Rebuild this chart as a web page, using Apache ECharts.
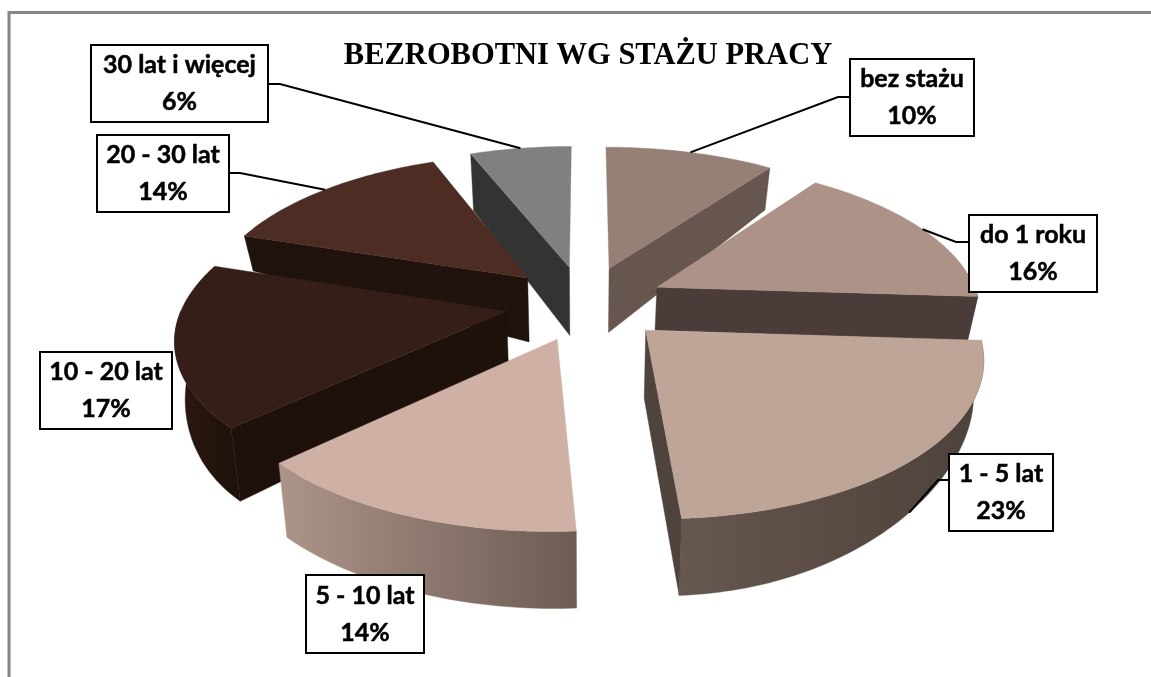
<!DOCTYPE html>
<html><head><meta charset="utf-8">
<style>html,body{margin:0;padding:0;background:#fff}#c{width:1151px;height:677px}</style>
<script src="https://cdn.jsdelivr.net/npm/echarts@6/dist/echarts.min.js"></script>
</head><body><div id="c"></div>
<script>
const categories = ['bez stażu','do 1 roku','1 - 5 lat','5 - 10 lat','10 - 20 lat','20 - 30 lat','30 lat i więcej'];
const shares = [10,16,23,14,17,14,6];
const chartTitle = 'BEZROBOTNI WG STAŻU PRACY';

// styling per slice
const topColors  = ['#967F75','#AD9287','#BFA498','#CFB0A5','#341E17','#4C2C23','#808080'];
const faceColors = ['#66564F','#4A3C38','#4F433D','#5A4B44','#1E110C','#20120D','#333333'];
const wallFrom   = ['#66564F','#4A3C38','#66574F','#AD9488','#2B1811','#20120D','#333333'];
const wallTo     = ['#66564F','#4A3C38','#4D413B','#6C5C54','#1F110C','#20120D','#333333'];
// wall heights: [apex, rim at start angle, rim at end angle]
const wallH = [[64,42,42],[43,44,44],[68,35,77],[60,77,74],[60,73,45],[64,35,35],[68,57,57]];
// small horizontal layout nudge per slice
const nudgeX = [0,0,2,3,1,0,-1];
// label layout: box [x0,y0,x1,y1], elbow [x,y] (null = no leader)
const boxes = [[850,59,974,136],[969,215,1097,292],[949,454,1053,531],[306,575,424,653],[40,352,172,429],[97,135,229,212],[91,45,268,122]];
const elbows = [[[850,97],[838,97]],[[969,242],[956,242]],[[949,480],[938,480]],null,null,[[229,173],[240,173]],[[268,84],[280,84]]];

const CX=585, CY=303, R0=323, A=150, P=0.155, EXPL=0.25, SHRINK=0.026;
const total = shares.reduce((a,b)=>a+b,0);
let acc=0;
const slices = shares.map((v,i)=>{const t0=acc/total*2*Math.PI; acc+=v; const t1=acc/total*2*Math.PI; return {i,t0,t1,m:(t0+t1)/2};});

function proj(X,Y,h,dx){
  const w=1-P*Y, px=R0*X/w, py=A*Y/w;
  const k=h?1-SHRINK:1;
  return [CX+dx+px*k, CY+py+(h||0)];
}
function pt(s,r,t,h){
  const X=EXPL*Math.sin(s.m)+r*Math.sin(t), Y=-EXPL*Math.cos(s.m)-r*Math.cos(t);
  return proj(X,Y,h,nudgeX[s.i]);
}
function rimH(s,t){
  const H=wallH[s.i], u=(t-s.t0)/(s.t1-s.t0), v=(1-Math.cos(u*Math.PI))/2;
  return H[1]+(H[2]-H[1])*v;
}
function arc(s,a,b,fn){
  const n=Math.max(2,Math.ceil((b-a)/(Math.PI/180))), out=[];
  for(let k=0;k<=n;k++){const t=a+(b-a)*k/n; out.push(fn(t));}
  return out;
}
function poly(points,fill){return {type:'polygon',shape:{points},style:{fill,stroke:fill,lineWidth:0.4}};}

// painter's order: back to front
const order=slices.slice().sort((p,q)=>Math.cos(q.m)-Math.cos(p.m));

function renderSlice(params){
  const s=order[params.dataIndex], i=s.i, children=[];
  const a=Math.max(s.t0,Math.PI/2), b=Math.min(s.t1,3*Math.PI/2);
  if(b>a){
    const top=arc(s,a,b,t=>pt(s,1,t,0));
    const bot=arc(s,a,b,t=>pt(s,1,t,rimH(s,t))).reverse();
    children.push(poly(top.concat(bot),new echarts.graphic.LinearGradient(0,0,1,0,
      [{offset:0,color:wallFrom[i]},{offset:1,color:wallTo[i]}])));
  }
  const face=(t,hr)=>poly([pt(s,0,t,0),pt(s,1,t,0),pt(s,1,t,hr),pt(s,0,t,wallH[i][0])],faceColors[i]);
  if(Math.sin(s.t0)<0) children.push(face(s.t0,wallH[i][1]));
  if(Math.sin(s.t1)>0) children.push(face(s.t1,wallH[i][2]));
  const rim=arc(s,s.t0,s.t1,t=>pt(s,1,t,0));
  children.push(poly([pt(s,0,0,0)].concat(rim),topColors[i]));
  return {type:'group',children};
}

const graphics=[
  {type:'polyline',z:1,shape:{points:[[9,677],[9,12.5],[1151,12.5]]},style:{fill:null,stroke:'#868686',lineWidth:3}}
];
slices.forEach(s=>{
  const i=s.i,b=boxes[i],el=elbows[i];
  if(el){
    const end = i===2 ? pt(s,1,s.m,rimH(s,s.m)) : pt(s,1,s.m,0);
    graphics.push({type:'polyline',z:50,shape:{points:[el[0],el[1],end]},style:{fill:null,stroke:'#000',lineWidth:2}});
  }
  graphics.push({type:'rect',z:60,shape:{x:b[0],y:b[1],width:b[2]-b[0],height:b[3]-b[1]},style:{fill:'#fff',stroke:'#000',lineWidth:2}});
  graphics.push({type:'text',z:61,x:(b[0]+b[2])/2,y:(b[1]+b[3])/2,style:{
    text:categories[i]+'\n'+shares[i]+'%',align:'center',verticalAlign:'middle',
    fontFamily:'Lato',fontWeight:'bold',fontSize:25,lineHeight:37,fill:'#000',stroke:'#000',lineWidth:0.5}});
});

const chart=echarts.init(document.getElementById('c'),null,{renderer:'canvas'});
chart.setOption({
  animation:false,
  backgroundColor:'#fff',
  title:{text:chartTitle,left:583,top:36,textAlign:'center',
    textStyle:{fontFamily:'Liberation Serif',fontWeight:'bold',fontSize:30.5,color:'#000'}},
  series:[{
    type:'custom',coordinateSystem:'none',silent:true,
    renderItem:renderSlice,data:order.map(s=>({value:shares[s.i],name:categories[s.i]}))
  }],
  graphic:{elements:graphics}
});
</script></body></html>
